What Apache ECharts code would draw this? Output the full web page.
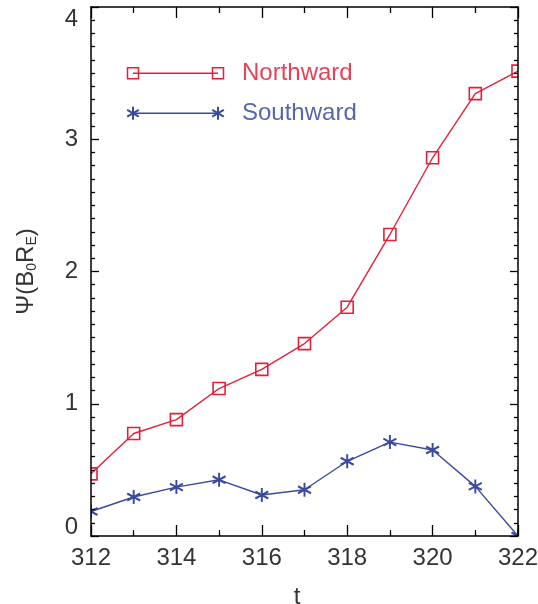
<!DOCTYPE html>
<html>
<head>
<meta charset="utf-8">
<script src="https://cdn.jsdelivr.net/npm/echarts@6/dist/echarts.min.js"></script>
<style>
  html, body { margin: 0; padding: 0; background: #fff; }
  #chart { width: 538px; height: 604px; }
</style>
</head>
<body>
<div id="chart"></div>
<script>
// Time samples and magnetic flux Ψ for the two IMF orientations
const times = [312, 313, 314, 315, 316, 317, 318, 319, 320, 321, 322];
const northward = [0.47, 0.775, 0.88, 1.115, 1.26, 1.455, 1.73, 2.28, 2.86, 3.345, 3.515];
const southward = [0.185, 0.295, 0.37, 0.425, 0.31, 0.35, 0.565, 0.71, 0.65, 0.375, 0.0];
const seriesNames = ['Northward', 'Southward'];
const xTicks = [312, 314, 316, 318, 320, 322];
const yTicks = [0, 1, 2, 3, 4];

const RED = '#e3203a';
const BLUE = '#3a4a9e';
const FONT = '"Liberation Sans", Arial, Helvetica, sans-serif';
const TEXT = '#333';

const STAR = 'path://M5,0L5,10M0.67,2.5L9.33,7.5M0.67,7.5L9.33,2.5';

const grid = { left: 91, right: 20, top: 7, bottom: 68, containLabel: false, outerBoundsMode: 'none' };
const chart = echarts.init(document.getElementById('chart'), null, { renderer: 'canvas' });

function pairs(vals) { return times.map((t, i) => [t, vals[i]]); }

function xAxisDef(pos, showLabels) {
  return {
    type: 'value', position: pos, min: xTicks[0], max: xTicks[xTicks.length - 1], interval: 2,
    zlevel: 2,
    name: showLabels ? 't' : '', nameLocation: 'middle', nameGap: 49,
    nameTextStyle: { fontFamily: FONT, fontSize: 24, color: TEXT, padding: [0, 15, 0, 0] },
    axisLine: { show: true, onZero: false, lineStyle: { color: '#000', width: 1.5 } },
    axisTick: { show: true, inside: true, length: 11, lineStyle: { color: '#000', width: 1.3 } },
    minorTick: { show: true, splitNumber: 2, length: 6, lineStyle: { color: '#000', width: 1.3 } },
    splitLine: { show: false },
    axisLabel: { show: showLabels, margin: 10, fontFamily: FONT, fontSize: 24, color: TEXT,
                 showMinLabel: true, showMaxLabel: true, hideOverlap: false }
  };
}

function yAxisDef(pos, showLabels) {
  return {
    type: 'value', position: pos, min: yTicks[0], max: yTicks[yTicks.length - 1], interval: 1,
    zlevel: 2,
    name: showLabels ? '{a|Ψ(B}{s|0}{a|R}{s|E}{a|)}' : '',
    nameLocation: 'middle', nameGap: 52, nameRotate: 90,
    nameTextStyle: {
      fontFamily: FONT, color: TEXT,
      rich: {
        a: { fontFamily: FONT, fontSize: 24, color: TEXT },
        s: { fontFamily: FONT, fontSize: 14, color: TEXT, verticalAlign: 'bottom', padding: [12, 0, 0, 0] }
      }
    },
    axisLine: { show: true, onZero: false, lineStyle: { color: '#000', width: 1.5 } },
    axisTick: { show: true, inside: true, length: 8, lineStyle: { color: '#000', width: 1.3 } },
    minorTick: { show: true, splitNumber: 10, length: 4, lineStyle: { color: '#000', width: 1.3 } },
    splitLine: { show: false },
    axisLabel: {
      show: showLabels, margin: 13, fontFamily: FONT, fontSize: 24, color: TEXT,
      showMinLabel: true, showMaxLabel: true, hideOverlap: false,
      formatter: function (v) {
        if (v === yTicks[yTicks.length - 1]) return '{top|' + v + '}';
        if (v === yTicks[0]) return '{bot|' + v + '}';
        return String(v);
      },
      rich: {
        top: { fontFamily: FONT, fontSize: 24, color: TEXT, padding: [24, 0, 0, 0] },
        bot: { fontFamily: FONT, fontSize: 24, color: TEXT, padding: [0, 0, 18, 0] }
      }
    }
  };
}

// Legend drawn as sample line segments with markers at both ends
function legendEntry(y, color, name, isStar) {
  const x0 = 133, x1 = 218;
  const els = [
    { type: 'line', zlevel: 2, shape: { x1: x0, y1: y, x2: x1, y2: y }, style: { stroke: color, lineWidth: 1.4 } }
  ];
  [x0, x1].forEach(function (cx) {
    if (isStar) {
      els.push({
        type: 'group', x: cx, y: y, zlevel: 2, children: [
          { type: 'line', shape: { x1: 0, y1: -6.5, x2: 0, y2: 6.5 }, style: { stroke: color, lineWidth: 2 } },
          { type: 'line', shape: { x1: -5.8, y1: -3.4, x2: 5.8, y2: 3.4 }, style: { stroke: color, lineWidth: 2 } },
          { type: 'line', shape: { x1: -5.8, y1: 3.4, x2: 5.8, y2: -3.4 }, style: { stroke: color, lineWidth: 2 } }
        ]
      });
    } else {
      els.push({ type: 'rect', zlevel: 2, shape: { x: cx - 5.5, y: y - 5.5, width: 11, height: 11 },
                 style: { fill: 'none', stroke: color, lineWidth: 1.5 } });
    }
  });
  els.push({ type: 'text', x: 242, y: y, zlevel: 2,
             style: { text: name, fill: color, font: '24px ' + FONT, textVerticalAlign: 'middle', opacity: 0.85 } });
  return els;
}

// White masks outside the plotting area, so markers at the frame edges are cut off
const W = 538, H = 604;
const masks = [
  { type: 'rect', shape: { x: 0, y: 0, width: grid.left, height: H } },
  { type: 'rect', shape: { x: W - grid.right, y: 0, width: grid.right, height: H } },
  { type: 'rect', shape: { x: 0, y: 0, width: W, height: grid.top } },
  { type: 'rect', shape: { x: 0, y: H - grid.bottom, width: W, height: grid.bottom } }
].map(function (r) { r.style = { fill: '#fff' }; r.zlevel = 1; r.silent = true; return r; });

chart.setOption({
  backgroundColor: '#fff',
  animation: false,
  grid: grid,
  xAxis: [xAxisDef('bottom', true), xAxisDef('top', false)],
  yAxis: [yAxisDef('left', true), yAxisDef('right', false)],
  graphic: masks.concat(legendEntry(73.3, RED, seriesNames[0], false))
                .concat(legendEntry(113.3, BLUE, seriesNames[1], true)),
  series: [
    {
      name: seriesNames[0], type: 'line', data: pairs(northward),
      xAxisIndex: 0, yAxisIndex: 0, clip: false,
      symbol: 'rect', symbolSize: 12,
      lineStyle: { color: RED, width: 1.4 },
      itemStyle: { color: 'rgba(0,0,0,0)', borderColor: RED, borderWidth: 1.6 }
    },
    {
      name: seriesNames[1], type: 'line', data: pairs(southward),
      xAxisIndex: 0, yAxisIndex: 0, clip: false,
      symbol: STAR, symbolSize: [13, 14],
      lineStyle: { color: BLUE, width: 1.4 },
      itemStyle: { color: BLUE, borderColor: BLUE, borderWidth: 2 }
    }
  ]
});
</script>
</body>
</html>
